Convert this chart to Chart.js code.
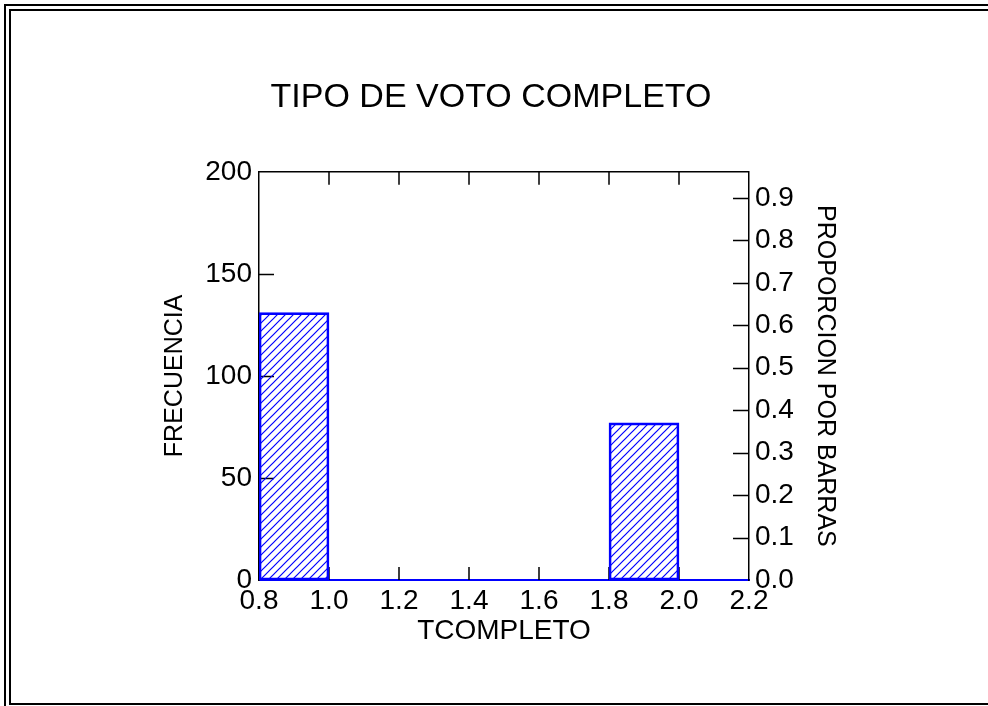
<!DOCTYPE html>
<html lang="es">
<head>
<meta charset="UTF-8">
<title>Tipo de voto completo</title>
<script src="https://cdn.jsdelivr.net/npm/chart.js"></script>
<style>
  body { margin: 0; background: #fff; }
  #wrap { position: relative; width: 988px; height: 706px; overflow: hidden; }
  canvas { position: absolute; left: 0; top: 0; }
  .frame { position: absolute; border: 2px solid #000; border-right: none; box-sizing: border-box; pointer-events: none; }
  .outer { left: 4px; top: 4px; width: 1000px; height: 720px; }
  .inner { left: 9px; top: 9px; width: 1000px; height: 696px; }
</style>
</head>
<body>
<div id="wrap">
  <canvas id="hist" width="988" height="706"></canvas>
  <div class="frame outer"></div>
  <div class="frame inner"></div>
</div>
<script>
// histogram bins (centres, width 0.2) and counts
const binCenters = [0.9, 1.1, 1.3, 1.5, 1.7, 1.9, 2.1];
const frequencies = [131, 0, 0, 0, 0, 77, 0];
const xTicks = [0.8, 1.0, 1.2, 1.4, 1.6, 1.8, 2.0, 2.2];
const freqTicks = [0, 50, 100, 150, 200];
const propTicks = [0.0, 0.1, 0.2, 0.3, 0.4, 0.5, 0.6, 0.7, 0.8, 0.9];

const total = frequencies.reduce((a, b) => a + b, 0);
const freqMax = 200;
const BLUE = '#0000ff';
const FONT = "'Liberation Sans', Arial, sans-serif";

// diagonal hatch "////"
function hatch() {
    const c = document.createElement('canvas');
    c.width = 8; c.height = 8;
    const g = c.getContext('2d');
    g.strokeStyle = BLUE;
    g.lineWidth = 1.2;
    g.beginPath();
    g.moveTo(0, 8); g.lineTo(8, 0);
    g.moveTo(-1, 1); g.lineTo(1, -1);
    g.moveTo(7, 9); g.lineTo(9, 7);
    g.stroke();
    return g.createPattern(c, 'repeat');
}

// inner tick marks + top frame line (drawn under the bars)
const innerTicks = {
    id: 'innerTicks',
    beforeDatasetsDraw(chart) {
        const { ctx, chartArea: a, scales } = chart;
        ctx.save();
        ctx.strokeStyle = '#000';
        ctx.lineWidth = 1.5;
        ctx.beginPath();
        ctx.moveTo(a.left, a.top); ctx.lineTo(a.right, a.top);
        xTicks.slice(1, -1).forEach(v => {
            const px = scales.x.getPixelForValue(v);
            ctx.moveTo(px, a.top); ctx.lineTo(px, a.top + 13);
            ctx.moveTo(px, a.bottom); ctx.lineTo(px, a.bottom - 13);
        });
        freqTicks.slice(1, -1).forEach(v => {
            const py = Math.round(scales.y.getPixelForValue(v)) + 0.5;
            ctx.moveTo(a.left, py); ctx.lineTo(a.left + 15, py);
        });
        propTicks.slice(1).forEach(v => {
            const py = Math.round(scales.y2.getPixelForValue(v)) + 0.5;
            ctx.moveTo(a.right, py); ctx.lineTo(a.right - 16, py);
        });
        ctx.stroke();
        ctx.restore();
    }
};

const chart = new Chart(document.getElementById('hist'), {
    type: 'bar',
    data: {
        datasets: [{
            data: binCenters.map((c, i) => ({ x: c, y: frequencies[i] })),
            backgroundColor: hatch(),
            borderColor: BLUE,
            borderWidth: 2,
            borderSkipped: false,
            barPercentage: 1,
            categoryPercentage: 1,
            yAxisID: 'y'
        }]
    },
    options: {
        responsive: false,
        animation: false,
        events: [],
        layout: { padding: { left: 0, right: 6, top: 0, bottom: 0 } },
        plugins: {
            legend: { display: false },
            tooltip: { enabled: false },
            title: {
                display: true,
                text: 'TIPO DE VOTO COMPLETO',
                color: '#000',
                font: { family: FONT, size: 34, weight: 'normal' },
                padding: { top: 77, bottom: 54 }
            }
        },
        scales: {
            x: {
                type: 'linear',
                position: 'bottom',
                offset: false,
                min: 0.8,
                max: 2.2,
                afterBuildTicks: s => { s.ticks = xTicks.map(v => ({ value: v })); },
                afterFit: s => { s.height = 126; },
                grid: { display: false, drawTicks: false, offset: false },
                border: { display: true, color: BLUE, width: 2 },
                ticks: {
                    color: '#000',
                    padding: 4,
                    maxRotation: 0,
                    font: { family: FONT, size: 28 },
                    callback: v => v.toFixed(1)
                },
                title: {
                    display: true,
                    text: 'TCOMPLETO',
                    color: '#000',
                    font: { family: FONT, size: 28 },
                    padding: { top: 0, bottom: 58 }
                }
            },
            y: {
                position: 'left',
                min: 0,
                max: freqMax,
                afterBuildTicks: s => { s.ticks = freqTicks.map(v => ({ value: v })); },
                afterFit: s => { s.width = 259; },
                grid: { display: false, drawTicks: false },
                border: { display: true, color: '#000', width: 1.5 },
                ticks: {
                    color: '#000',
                    padding: 7,
                    font: { family: FONT, size: 28 }
                },
                title: {
                    display: true,
                    text: 'FRECUENCIA',
                    color: '#000',
                    font: { family: FONT, size: 25 },
                    padding: { top: 160, bottom: 0 }
                }
            },
            y2: {
                position: 'right',
                min: 0,
                max: freqMax / total,
                afterBuildTicks: s => { s.ticks = propTicks.map(v => ({ value: v })); },
                afterFit: s => { s.width = 233; },
                grid: { display: false, drawTicks: false },
                border: { display: true, color: '#000', width: 1.5 },
                ticks: {
                    color: '#000',
                    padding: 6,
                    font: { family: FONT, size: 28 },
                    callback: v => v.toFixed(1)
                },
                title: {
                    display: true,
                    text: 'PROPORCION POR BARRAS',
                    color: '#000',
                    font: { family: FONT, size: 25 },
                    padding: { top: 142, bottom: 0 }
                }
            }
        }
    },
    plugins: [innerTicks]
});
</script>
</body>
</html>
